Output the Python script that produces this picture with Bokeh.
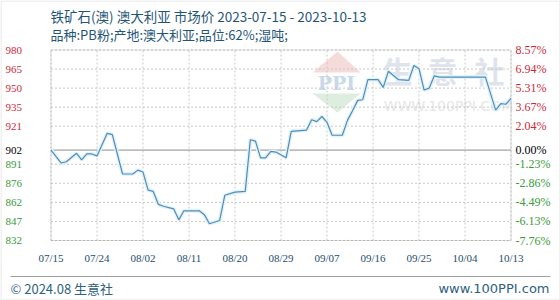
import pandas as pd
from bokeh.plotting import figure
from bokeh.models import (Range1d, Label, LabelSet, ColumnDataSource, BoxAnnotation,
                          PolyAnnotation)
from bokeh.embed import file_html
from bokeh.resources import INLINE

# ---------------- data ----------------
dates = ["2023-07-15", "2023-07-17", "2023-07-18", "2023-07-20", "2023-07-21", "2023-07-22",
         "2023-07-23", "2023-07-24", "2023-07-26", "2023-07-27", "2023-07-29", "2023-07-31",
         "2023-08-01", "2023-08-02", "2023-08-03", "2023-08-04", "2023-08-05", "2023-08-06",
         "2023-08-08", "2023-08-09", "2023-08-10", "2023-08-13", "2023-08-14", "2023-08-15",
         "2023-08-17", "2023-08-18", "2023-08-20", "2023-08-22", "2023-08-23", "2023-08-24",
         "2023-08-25", "2023-08-26", "2023-08-27", "2023-08-28", "2023-08-30", "2023-08-31",
         "2023-09-03", "2023-09-04", "2023-09-05", "2023-09-06", "2023-09-07", "2023-09-08",
         "2023-09-10", "2023-09-11", "2023-09-12", "2023-09-13", "2023-09-14", "2023-09-15",
         "2023-09-17", "2023-09-18", "2023-09-19", "2023-09-21", "2023-09-23", "2023-09-24",
         "2023-09-25", "2023-09-26", "2023-09-27", "2023-09-28", "2023-09-29", "2023-10-08",
         "2023-10-10", "2023-10-11", "2023-10-12", "2023-10-13"]
prices = [902, 892, 893, 899.5, 894.5, 899, 899, 897.5, 915, 914, 883.5, 883.5,
          886.5, 885, 871, 870, 860, 858.5, 856.5, 848, 855, 855, 852, 845,
          847.5, 867, 869.5, 870, 910, 909, 896, 896, 901, 900.5, 896, 916.5,
          917.5, 925.5, 924, 928, 923.5, 913.5, 913.5, 925, 932.5, 940.5, 941, 956.5,
          956.5, 950.5, 963, 956.5, 956, 967.5, 965, 948.5, 950, 959.5, 958.5, 958.5,
          933, 938, 937.5, 942]

x_tick_dates = ["2023-07-15", "2023-07-24", "2023-08-02", "2023-08-11", "2023-08-20",
                "2023-08-29", "2023-09-07", "2023-09-16", "2023-09-25", "2023-10-04",
                "2023-10-13"]
x_tick_labels = ["07/15", "07/24", "08/02", "08/11", "08/20", "08/29",
                 "09/07", "09/16", "09/25", "10/04", "10/13"]
base_price = 902
y_min, y_max = 832.0, 979.5
left_labels = ["980", "965", "950", "935", "921", "902", "891", "876", "862", "847", "832"]
left_values = [979.5, 964.75, 950.0, 935.25, 920.5, 902.0, 891.0, 876.25, 861.5, 846.75, 832.0]
right_labels = ["8.57%", "6.94%", "5.31%", "3.67%", "2.04%", "0.00%",
                "-1.23%", "-2.86%", "-4.49%", "-6.13%", "-7.76%"]

title1 = "铁矿石(澳) 澳大利亚 市场价 2023-07-15 - 2023-10-13"
title2 = "品种:PB粉;产地:澳大利亚;品位:62%;湿吨;"
footer_left = "© 2024.08 生意社"
footer_right = "www.100PPI.com"

# ---------------- layout geometry (canvas pixels) ----------------
W, H = 560, 300
PL, PR, PT, PB = 50.5, 510.5, 49.5, 240.0   # plot box edges

x = pd.to_datetime(dates)
xt = pd.to_datetime(x_tick_dates)
x0_ms = xt[0].value / 1e6
x1_ms = xt[-1].value / 1e6
ms_per_px = (x1_ms - x0_ms) / (PR - PL)
v_per_px = (y_max - y_min) / (PB - PT)

# the frame covers the whole canvas; ranges extended so the plot box lands at PL..PR, PT..PB
xr = Range1d(x0_ms - PL * ms_per_px, x1_ms + (W - PR) * ms_per_px)
yr = Range1d(y_min - (H - PB) * v_per_px, y_max + PT * v_per_px)

p = figure(width=W, height=H, x_axis_type="datetime", x_axis_location=None,
           y_axis_location=None, output_backend="svg", toolbar_location=None,
           x_range=xr, y_range=yr, min_border=0)
p.title.visible = False
p.background_fill_color = "white"
p.border_fill_color = "white"
p.outline_line_color = None
p.xgrid.visible = False
p.ygrid.visible = False

def sy(Y):      # canvas y (from top) -> screen units (from bottom)
    return H - Y

tick_ms = [t.value / 1e6 for t in xt]
grid_vals = [v for v in left_values if v != base_price]

# ---------------- watermark ----------------
p.add_layout(PolyAnnotation(xs=[312, 337, 360], ys=[sy(72), sy(51), sy(72)],
                            xs_units="screen", ys_units="screen",
                            fill_color="#f4d2d2", fill_alpha=0.8, line_color=None, level="underlay"))
p.add_layout(PolyAnnotation(xs=[312, 360, 337], ys=[sy(93), sy(93), sy(112)],
                            xs_units="screen", ys_units="screen",
                            fill_color="#d6ead6", fill_alpha=0.8, line_color=None, level="underlay"))
p.add_layout(Label(x=336, y=sy(82), x_units="screen", y_units="screen", text="PPI",
                   text_font="DejaVu Serif", text_font_size="19px", text_font_style="bold",
                   text_color="#cbd8ea", text_align="center", text_baseline="middle",
                   level="underlay"))
for cx, ch in zip([397, 442, 489], "生意社"):
    p.add_layout(Label(x=cx, y=sy(69), x_units="screen", y_units="screen", text=ch,
                       text_font="Noto Sans CJK SC", text_font_size="30px", text_font_style="bold",
                       text_color="#dfe4ec", text_align="center", text_baseline="middle",
                       level="underlay"))
p.add_layout(Label(x=448, y=sy(105), x_units="screen", y_units="screen", text="WWW.100PPI.COM",
                   text_font="DejaVu Sans", text_font_size="14px",
                   text_color="#e6e6e6", text_align="center", text_baseline="middle",
                   level="underlay"))

# ---------------- grid, box, base line ----------------
p.segment(x0=[x0_ms] * len(grid_vals), x1=[x1_ms] * len(grid_vals), y0=grid_vals, y1=grid_vals,
          line_color="#c8c8c8", line_dash="2 2", line_width=1)
p.segment(x0=tick_ms, x1=tick_ms, y0=[y_min] * len(tick_ms), y1=[y_max] * len(tick_ms),
          line_color="#c8c8c8", line_dash="2 2", line_width=1)
p.segment(x0=[x0_ms], x1=[x1_ms], y0=[base_price], y1=[base_price],
          line_color="#8c8c8c", line_width=1)
p.add_layout(BoxAnnotation(left=x0_ms, right=x1_ms, bottom=y_min, top=y_max,
                           fill_alpha=0, line_color="#8c8c8c", line_width=1))

# ---------------- price line ----------------
p.line(x, prices, line_color="#e2f2fa", line_width=4)
p.line(x, prices, line_color="#4e8db5", line_width=1.2)

# ---------------- side labels ----------------
left_colors = ["#000000" if v == base_price else ("#cc2a3a" if v > base_price else "#3a9a3a")
               for v in left_values]
src = ColumnDataSource(dict(y=left_values, lt=left_labels, rt=right_labels, c=left_colors))
p.add_layout(LabelSet(x=5, y="y", x_units="screen", text="lt", source=src,
                      text_color="c", text_font="DejaVu Sans", text_font_size="11px",
                      text_align="left", text_baseline="middle"))
p.add_layout(LabelSet(x=515, y="y", x_units="screen", text="rt", source=src,
                      text_color="c", text_font="DejaVu Sans Mono", text_font_size="12px",
                      text_align="left", text_baseline="middle"))

xsrc = ColumnDataSource(dict(x=tick_ms, t=x_tick_labels))
p.add_layout(LabelSet(x="x", y=sy(257), y_units="screen", text="t", source=xsrc,
                      text_color="#1f4d6e", text_font="DejaVu Sans", text_font_size="11px",
                      text_align="center", text_baseline="middle"))

# ---------------- titles and footer ----------------
p.add_layout(Label(x=50, y=sy(15), x_units="screen", y_units="screen", text=title1,
                   text_font="Noto Sans CJK SC", text_font_size="13.5px", text_color="#1f5678",
                   text_baseline="middle"))
p.add_layout(Label(x=50, y=sy(34), x_units="screen", y_units="screen", text=title2,
                   text_font="Noto Sans CJK SC", text_font_size="13px", text_color="#1f5678",
                   text_baseline="middle"))
p.add_layout(BoxAnnotation(left=10, right=550, bottom=sy(276.5), top=sy(275.5),
                           left_units="screen", right_units="screen",
                           bottom_units="screen", top_units="screen",
                           fill_color="#a0a0a0", fill_alpha=1, line_color=None))
p.add_layout(Label(x=10, y=sy(288), x_units="screen", y_units="screen", text=footer_left,
                   text_font="Noto Sans CJK SC", text_font_size="13px", text_color="#2e5f80",
                   text_baseline="middle"))
p.add_layout(Label(x=549, y=sy(288), x_units="screen", y_units="screen", text=footer_right,
                   text_font="DejaVu Sans", text_font_size="13px", text_color="#2e5f80",
                   text_align="right", text_baseline="middle"))
p.add_layout(BoxAnnotation(left=0.5, right=559.5, bottom=sy(299.5), top=sy(0.5),
                           left_units="screen", right_units="screen",
                           bottom_units="screen", top_units="screen",
                           fill_alpha=0, line_color="#a0a0a0", line_width=1))

open("out.html", "w").write(file_html(p, INLINE))
